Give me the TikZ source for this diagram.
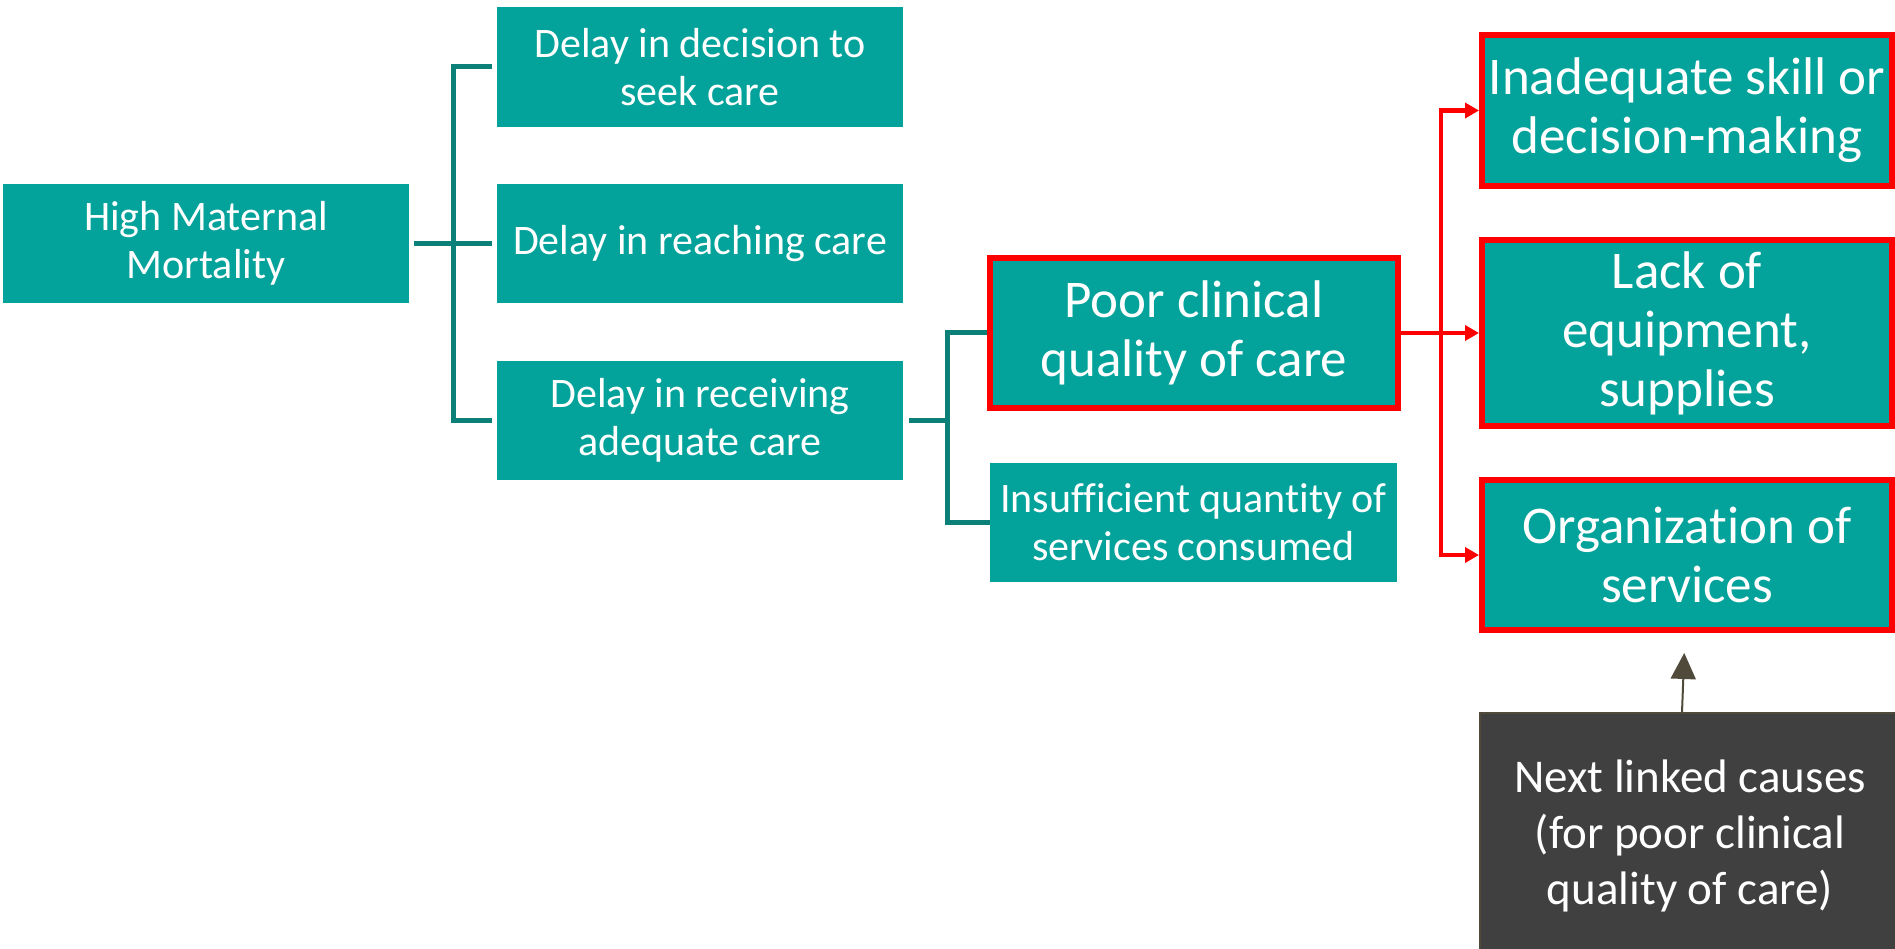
\documentclass[tikz,border=0pt]{standalone}
\usepackage{fontspec}
\setmainfont{Carlito}[Ligatures={NoCommon}]
\usetikzlibrary{arrows.meta}
\definecolor{tealbox}{HTML}{03A29A}
\definecolor{tealline}{HTML}{0A8078}
\definecolor{redc}{HTML}{FF0000}
\definecolor{darkbox}{HTML}{404040}
\definecolor{olivec}{HTML}{4F4A3A}
\begin{document}
\begin{tikzpicture}[x=1pt,y=-1pt,
  tbox/.style={fill=tealbox, text=white, align=center, inner sep=0pt, font=\fontsize{42}{48}\selectfont},
  rbox/.style={fill=tealbox, draw=redc, line width=6pt, text=white, align=center, inner sep=0pt, font=\fontsize{53}{59}\selectfont},
  nbox/.style={fill=darkbox, draw=olivec, line width=1.5pt, text=white, align=center, inner sep=0pt, font=\fontsize{47}{56}\selectfont},
  tline/.style={draw=tealline, line width=5pt},
  rline/.style={draw=redc, line width=4.5pt},
  rarrow/.style={rline, -{Triangle[length=14pt,width=15pt]}},
  narrow/.style={draw=olivec, line width=2pt, -{Triangle[length=26pt,width=25pt]}},
]
\useasboundingbox (0,0) rectangle (1895,949);
\clip (0,0) rectangle (1895,949);

\node[tbox, minimum width=406pt, minimum height=119pt] (hmm) at (206,243.5) {High Maternal\\Mortality};
\node[tbox, minimum width=406pt, minimum height=120pt] (d1) at (700,67) {Delay in decision to\\seek care};
\node[tbox, minimum width=406pt, minimum height=119pt] (d2) at (700,243.5) {Delay in reaching care};
\node[tbox, minimum width=406pt, minimum height=119pt] (d3) at (700,420.5) {Delay in receiving\\adequate care};
\node[rbox, minimum width=408pt, minimum height=150pt] (poor) at (1194,333) {Poor clinical\\quality of care};
\node[tbox, minimum width=407pt, minimum height=119pt] (ins) at (1193.5,522.5) {Insufficient quantity of\\services consumed};
\node[rbox, minimum width=410pt, minimum height=151pt] (inad) at (1687,110.5) {Inadequate skill or\\decision-making};
\node[rbox, minimum width=410pt, minimum height=186pt] (lack) at (1687,333) {Lack of\\equipment,\\supplies};
\node[rbox, minimum width=410pt, minimum height=150pt] (org) at (1687,555) {Organization of\\services};
\node[nbox, minimum width=420pt, minimum height=246pt] (next) at (1690,836) {Next linked causes\\(for poor clinical\\quality of care)};

% teal brackets
\coordinate (j1) at (453,243.5);
\draw[tline, shorten <=5pt, shorten >=5pt] (hmm.east) -- (d2.west);
\draw[tline, shorten <=5pt, shorten >=5pt] (d1.west) -| (j1) |- (d3.west);
\coordinate (j2) at (947,420.5);
\draw[tline, shorten <=6pt] (d3.east) -- (j2);
\draw[tline] (poor.west) -| (j2) |- (ins.west);

% red connectors
\coordinate (r) at (1441,333);
\draw[rline] (poor.east) -- (r);
\draw[rarrow] (r) -- (lack.west);
\draw[rarrow] (r) |- (inad.west);
\draw[rarrow] (r) |- (org.west);

% dark arrow
\draw[narrow, shorten >=20pt] ([xshift=-8pt]next.north) -- ([xshift=-2pt]org.south);
\end{tikzpicture}
\end{document}
